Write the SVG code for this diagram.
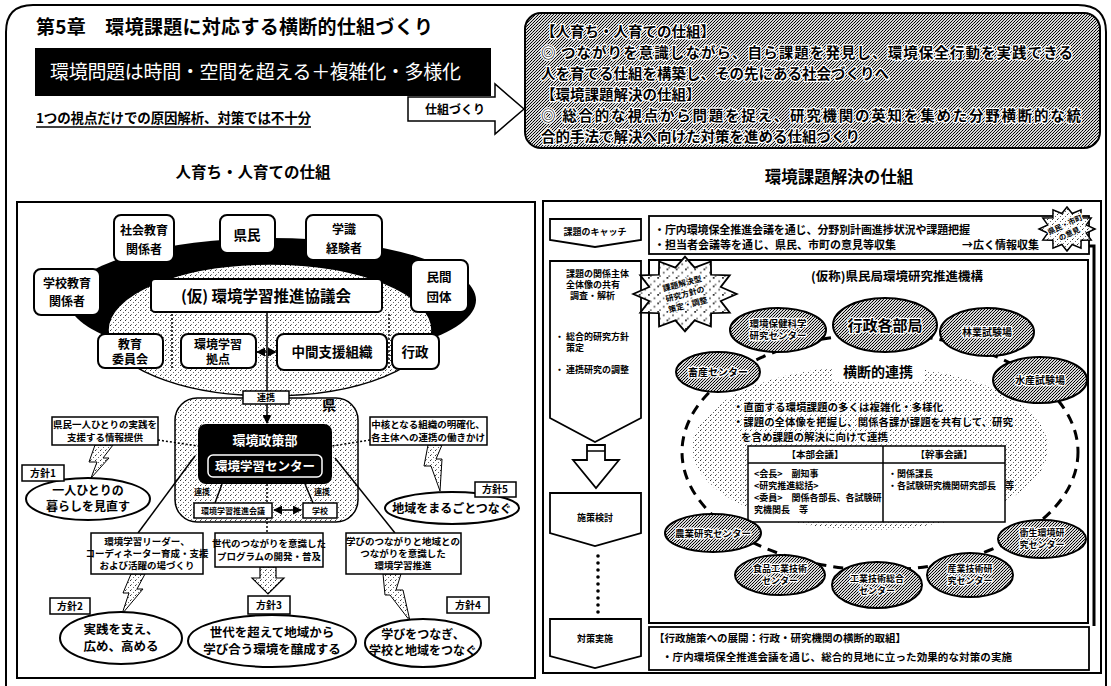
<svg xmlns="http://www.w3.org/2000/svg" width="1111" height="686" viewBox="0 0 1111 686">
<defs>
<style>
.t{font-family:"Noto Sans CJK JP","Noto Sans CJK SC",sans-serif;font-weight:700;fill:#000}
.c{text-anchor:middle}
.box{fill:#fff;stroke:#000;stroke-width:2}
.thin{fill:#fff;stroke:#000;stroke-width:1.5}
.halo{stroke:#fff;stroke-width:2.5;paint-order:stroke;stroke-linejoin:round}
.el{fill:url(#dk);stroke:#000;stroke-width:2}
.ln{fill:none;stroke:#000;stroke-width:1.5}
.dot{fill:none;stroke:#000;stroke-width:1.5;stroke-dasharray:2 2}
.wedge{fill:url(#lt);stroke:#000;stroke-width:1}
</style>
<pattern id="lt" width="5" height="5" patternUnits="userSpaceOnUse">
<rect width="5" height="5" fill="#fff"/>
<rect x="0" y="0" width="1" height="1" fill="#333"/>
<rect x="3" y="2" width="1" height="1" fill="#666"/>
<rect x="1" y="4" width="1" height="1" fill="#888"/>
</pattern>
<pattern id="dk" width="3" height="3" patternUnits="userSpaceOnUse">
<rect width="3" height="3" fill="#d8d8d8"/>
<rect x="0" y="0" width="1" height="1" fill="#000"/>
<rect x="2" y="1" width="1" height="1" fill="#000"/>
<rect x="1" y="2" width="1" height="1" fill="#222"/>
</pattern>
<marker id="arr" viewBox="0 0 10 10" refX="9" refY="5" markerWidth="6" markerHeight="6" orient="auto-start-reverse">
<path d="M0,0 L10,5 L0,10 z" fill="#000"/>
</marker>
<polygon id="burst" points="28,0 19.3,4.1 24.2,11 14.1,11.3 14,19.1 5.2,15.5 0,22 -5.2,15.5 -14,19.1 -14.1,11.3 -24.2,11 -19.3,4.1 -28,0 -19.3,-4.1 -24.2,-11 -14.1,-11.3 -14,-19.1 -5.2,-15.5 0,-22 5.2,-15.5 14,-19.1 14.1,-11.3 24.2,-11 19.3,-4.1"/>
</defs>

<rect width="1111" height="686" fill="#fff"/>
<path d="M6,686 V32 Q6,5 33,5 H1078 Q1106,5 1106,32 V686" fill="none" stroke="#000" stroke-width="2"/>

<g id="header">
<text class="t" x="36" y="34" font-size="19" textLength="397">第5章　環境課題に対応する横断的仕組づくり</text>
<rect x="35" y="48" width="456" height="48" fill="#000"/>
<text class="t" x="50" y="79" font-size="19" textLength="411" style="fill:#fff;font-weight:400">環境問題は時間・空間を超える＋複雑化・多様化</text>
<text class="t" x="36" y="123" font-size="13.5" textLength="275">1つの視点だけでの原因解析、対策では不十分</text>
<line x1="36" y1="127" x2="311" y2="127" stroke="#000" stroke-width="1.5"/>
</g>

<g id="arrow-shikumi">
<polygon points="408,97 495,97 495,84 524,109 495,134 495,121 408,121" fill="#fff" stroke="#000" stroke-width="1.5"/>
<text class="t c" x="455" y="114" font-size="12">仕組づくり</text>
</g>

<g id="summary-box">
<rect x="525" y="13" width="575" height="135" rx="16" fill="url(#dk)" stroke="#000" stroke-width="2"/>
<text class="t halo" x="541" y="37" font-size="14.5">【人育ち・人育ての仕組】</text>
<text class="t halo" x="541" y="58" font-size="14.5" textLength="532">◎ つながりを意識しながら、自ら課題を発見し、環境保全行動を実践できる</text>
<text class="t halo" x="541" y="79" font-size="14.5">人を育てる仕組を構築し、その先にある社会づくりへ</text>
<text class="t halo" x="541" y="100" font-size="14.5">【環境課題解決の仕組】</text>
<text class="t halo" x="541" y="121" font-size="14.5" textLength="540">◎ 総合的な視点から問題を捉え、研究機関の英知を集めた分野横断的な統</text>
<text class="t halo" x="541" y="142" font-size="14.5">合的手法で解決へ向けた対策を進める仕組づくり</text>
</g>

<text class="t c" x="253" y="178" font-size="15.5">人育ち・人育ての仕組</text>
<text class="t c" x="839" y="183" font-size="16.5">環境課題解決の仕組</text>

<!-- LEFT PANEL -->
<g id="left-panel">
<rect x="17" y="202" width="518" height="476" fill="#fff" stroke="#000" stroke-width="2"/>
<ellipse cx="272" cy="300" rx="204" ry="62" fill="#000"/>
<ellipse cx="270" cy="330" rx="162" ry="66" fill="url(#lt)" stroke="#000" stroke-width="1.5"/>
<rect x="175" y="398" width="183" height="124" rx="22" fill="url(#lt)" stroke="#000" stroke-width="1.5"/>
<text class="t" x="322" y="410" font-size="14">県</text>
</g>

<g id="connectors">
<line class="dot" x1="172" y1="314" x2="172" y2="368"/>
<line class="dot" x1="389" y1="314" x2="389" y2="368"/>
<line class="dot" x1="257" y1="352" x2="276" y2="352" marker-start="url(#arr)" marker-end="url(#arr)"/>
<line class="ln" x1="267" y1="312" x2="267" y2="423" stroke-width="2" marker-end="url(#arr)"/>
<line class="dot" x1="158" y1="440" x2="198" y2="446"/>
<line class="dot" x1="370" y1="440" x2="332" y2="446"/>
<line class="ln" x1="195" y1="456" x2="138" y2="533"/>
<line class="ln" x1="335" y1="458" x2="395" y2="533"/>
<line class="ln" x1="222" y1="484" x2="215" y2="503"/>
<line class="ln" x1="305" y1="484" x2="313" y2="503"/>
<line class="dot" x1="267" y1="484" x2="267" y2="503"/>
<line class="dot" x1="267" y1="518" x2="267" y2="533"/>
<line class="ln" x1="274" y1="510" x2="301" y2="510" marker-start="url(#arr)" marker-end="url(#arr)"/>
<polygon class="wedge" points="95,445 113,445 103,458 109,458 91,478 97,462 89,462"/>
<polygon class="wedge" points="428,445 442,445 436,459 442,459 440,491 431,466 424,466"/>
<polygon class="wedge" points="131,574 145,574 137,589 143,589 122,614 129,593 123,593"/>
<polygon class="wedge" points="383,574 401,574 396,590 403,590 410,621 390,595 385,595"/>
<polygon class="wedge" points="260,567 276,567 276,578 284,578 268,594 252,578 260,578" style="stroke-width:1.2"/>
<polygon points="587,445 605,445 605,460 619,460 596,488 573,460 587,460" fill="#fff" stroke="#000" stroke-width="1.8"/>
<line x1="587" y1="451" x2="605" y2="451" stroke="#000" stroke-width="1.5"/>
<path d="M1094,626 V246 H1072" fill="none" stroke="#000" stroke-width="3" marker-end="url(#arr)"/>
</g>

<g id="n-shakai"><rect class="box" x="114" y="215" width="60" height="47" rx="7"/><text class="t c" x="144" y="235" font-size="12">社会教育</text><text class="t c" x="144" y="254" font-size="12">関係者</text></g>
<g id="n-kenmin"><rect class="box" x="220" y="215" width="55" height="38" rx="7"/><text class="t c" x="247" y="240" font-size="13.5">県民</text></g>
<g id="n-gakushiki"><rect class="box" x="306" y="215" width="76" height="45" rx="7"/><text class="t c" x="344" y="234" font-size="12">学識</text><text class="t c" x="344" y="253" font-size="12">経験者</text></g>
<g id="n-gakko"><rect class="box" x="34" y="269" width="66" height="46" rx="7"/><text class="t c" x="67" y="288" font-size="12">学校教育</text><text class="t c" x="67" y="306" font-size="12">関係者</text></g>
<g id="n-minkan"><rect class="box" x="411" y="260" width="57" height="52" rx="7"/><text class="t c" x="439" y="282" font-size="12.5">民間</text><text class="t c" x="439" y="302" font-size="12.5">団体</text></g>
<g id="n-kyogikai"><rect class="box" x="151" y="279" width="231" height="33" rx="4"/><text class="t c" x="266" y="302" font-size="15.5">(仮) 環境学習推進協議会</text></g>
<g id="n-kyoiku"><rect class="box" x="98" y="334" width="65" height="34" rx="7"/><text class="t c" x="130" y="349" font-size="12">教育</text><text class="t c" x="130" y="364" font-size="12">委員会</text></g>
<g id="n-kyoten"><rect class="box" x="181" y="334" width="75" height="34" rx="7"/><text class="t c" x="218" y="349" font-size="12">環境学習</text><text class="t c" x="218" y="364" font-size="12">拠点</text></g>
<g id="n-chukan"><rect class="box" x="277" y="334" width="110" height="36" rx="7"/><text class="t c" x="332" y="357" font-size="13.5">中間支援組織</text></g>
<g id="n-gyosei"><rect class="box" x="392" y="334" width="47" height="35" rx="7"/><text class="t c" x="415" y="357" font-size="13.5">行政</text></g>
<g id="n-renkei"><rect class="thin" x="243" y="391" width="46" height="13"/><text class="t c" x="266" y="401" font-size="9">連携</text></g>
<g id="n-center"><rect x="198" y="424" width="134" height="60" rx="8" fill="#000"/><text class="t c" x="265" y="445" font-size="13" style="fill:#fff">環境政策部</text><rect x="208" y="455" width="114" height="22" rx="5" fill="none" stroke="#fff" stroke-width="1.5"/><text class="t c" x="265" y="471" font-size="12.5" style="fill:#fff">環境学習センター</text></g>
<g id="n-lbox"><rect class="thin" x="52" y="417" width="106" height="28"/><text class="t c" x="105" y="428" font-size="9.5">県民一人ひとりの実践を</text><text class="t c" x="105" y="441" font-size="9.5">支援する情報提供</text></g>
<g id="n-rbox"><rect class="thin" x="370" y="417" width="117" height="28"/><text class="t c" x="428" y="428" font-size="9.5">中核となる組織の明確化、</text><text class="t c" x="428" y="441" font-size="9.5">各主体への連携の働きかけ</text></g>
<text class="t" x="194" y="495" font-size="8">連携</text>
<text class="t" x="314" y="495" font-size="8">連携</text>
<g id="n-suishin"><rect class="thin" x="194" y="503" width="78" height="15"/><text class="t c" x="233" y="514" font-size="8">環境学習推進会議</text></g>
<g id="n-gakko2"><rect class="thin" x="303" y="503" width="34" height="15"/><text class="t c" x="320" y="514" font-size="8">学校</text></g>

<g id="h1"><ellipse cx="88" cy="499" rx="62" ry="21" fill="#fff" stroke="#000" stroke-width="2"/><text class="t c" x="88" y="495" font-size="12">一人ひとりの</text><text class="t c" x="88" y="511" font-size="12">暮らしを見直す</text><rect class="thin" x="22" y="465" width="42" height="16"/><text class="t c" x="43" y="477" font-size="10">方針1</text></g>
<g id="h5"><ellipse cx="452" cy="508" rx="67" ry="16" fill="#fff" stroke="#000" stroke-width="2"/><text class="t c" x="452" y="513" font-size="12">地域をまるごとつなぐ</text><rect class="thin" x="475" y="482" width="41" height="15"/><text class="t c" x="495" y="493" font-size="10">方針5</text></g>
<g id="b-leader"><rect class="thin" x="91" y="533" width="112" height="41"/><text class="t c" x="147" y="545" font-size="9.5">環境学習リーダー、</text><text class="t c" x="147" y="557" font-size="9.5">コーディネーター育成・支援</text><text class="t c" x="147" y="569" font-size="9.5">および活躍の場づくり</text></g>
<g id="b-sedai"><rect class="thin" x="215" y="533" width="108" height="34"/><text class="t c" x="269" y="547" font-size="9.5">世代のつながりを意識した</text><text class="t c" x="269" y="560" font-size="9.5">プログラムの開発・普及</text></g>
<g id="b-manabi"><rect class="thin" x="346" y="533" width="115" height="41"/><text class="t c" x="403" y="545" font-size="9.5">学びのつながりと地域との</text><text class="t c" x="403" y="557" font-size="9.5">つながりを意識した</text><text class="t c" x="403" y="569" font-size="9.5">環境学習推進</text></g>
<g id="h2"><ellipse cx="121" cy="638" rx="61" ry="26" fill="#fff" stroke="#000" stroke-width="2"/><text class="t c" x="121" y="634" font-size="12.5">実践を支え、</text><text class="t c" x="121" y="651" font-size="12.5">広め、高める</text><rect class="thin" x="50" y="598" width="40" height="16"/><text class="t c" x="70" y="610" font-size="10">方針2</text></g>
<g id="h3"><ellipse cx="272" cy="641" rx="84" ry="26" fill="#fff" stroke="#000" stroke-width="2"/><text class="t c" x="272" y="637" font-size="12.5">世代を超えて地域から</text><text class="t c" x="272" y="654" font-size="12.5">学び合う環境を醸成する</text><rect class="thin" x="248" y="596" width="42" height="18"/><text class="t c" x="269" y="609" font-size="10">方針3</text></g>
<g id="h4"><ellipse cx="423" cy="643" rx="58" ry="24" fill="#fff" stroke="#000" stroke-width="2"/><text class="t c" x="423" y="639" font-size="12">学びをつなぎ、</text><text class="t c" x="423" y="655" font-size="12">学校と地域をつなぐ</text><rect class="thin" x="447" y="597" width="42" height="16"/><text class="t c" x="468" y="609" font-size="10">方針4</text></g>

<!-- RIGHT PANEL -->
<g id="right-panel">
<rect x="543" y="201" width="558" height="472" fill="none" stroke="#000" stroke-width="2"/>
</g>
<g id="s-catch"><polygon points="550,219 641,219 641,240 595,247 550,240" fill="#fff" stroke="#000" stroke-width="1.8"/><text class="t c" x="595" y="235" font-size="9">課題のキャッチ</text></g>
<g id="s-kaiseki"><polygon points="550,261 641,261 641,418 595,442 550,418" fill="#fff" stroke="#000" stroke-width="1.8"/>
<text class="t" x="566" y="277" font-size="9">課題の関係主体</text><text class="t" x="566" y="288" font-size="9">全体像の共有</text><text class="t" x="570" y="299" font-size="9">調査・解析</text>
<text class="t" x="555" y="340" font-size="9">・ 総合的研究方針</text><text class="t" x="566" y="351" font-size="9">策定</text>
<text class="t" x="555" y="373" font-size="9">・ 連携研究の調整</text></g>
<g id="s-kento"><polygon points="550,493 641,493 641,533 595,546 550,533" fill="#fff" stroke="#000" stroke-width="1.8"/><text class="t c" x="595" y="521" font-size="9">施策検討</text></g>
<g id="s-dots" fill="#000"><circle cx="598" cy="556" r="1.8"/><circle cx="598" cy="563" r="1.8"/><circle cx="598" cy="570" r="1.8"/><circle cx="598" cy="577" r="1.8"/><circle cx="598" cy="584" r="1.8"/><circle cx="598" cy="591" r="1.8"/><circle cx="598" cy="598" r="1.8"/><circle cx="598" cy="605" r="1.8"/><circle cx="598" cy="612" r="1.8"/></g>
<g id="s-jisshi"><polygon points="550,619 641,619 641,656 595,668 550,656" fill="#fff" stroke="#000" stroke-width="1.8"/><text class="t c" x="595" y="642" font-size="9">対策実施</text></g>

<g id="info-box"><rect x="649" y="216" width="440" height="38" fill="#fff" stroke="#000" stroke-width="1.8"/>
<text class="t" x="654" y="234" font-size="11" textLength="316">・庁内環境保全推進会議を通じ、分野別計画進捗状況や課題把握</text>
<text class="t" x="654" y="249" font-size="11">・担当者会議等を通じ、県民、市町の意見等収集</text>
<text class="t" x="962" y="249" font-size="11">→広く情報収集</text></g>
<g id="burst-r"><use href="#burst" transform="translate(1067,229)" fill="url(#lt)" stroke="#000" stroke-width="1.5"/><g transform="translate(1067,229) rotate(-25)"><text class="t c halo" x="0" y="-2" font-size="7.5">県民・市町</text><text class="t c halo" x="0" y="8" font-size="7.5">の意見</text></g></g>

<g id="inner-box"><rect x="649" y="260" width="439" height="363" fill="#fff" stroke="#000" stroke-width="2"/>
<text class="t c" x="897" y="281" font-size="12.5">(仮称)県民局環境研究推進機構</text></g>
<g id="renkei-area">
<ellipse cx="880" cy="452" rx="198" ry="118" fill="none" stroke="#000" stroke-width="3" stroke-dasharray="10 7"/>
<ellipse cx="870" cy="448" rx="178" ry="82" fill="url(#lt)"/>
<rect x="832" y="360" width="92" height="22" fill="#fff"/>
<text class="t c" x="878" y="377" font-size="14">横断的連携</text>
<text class="t halo" x="733" y="411" font-size="10.5">・直面する環境課題の多くは複雑化・多様化</text>
<text class="t halo" x="733" y="426" font-size="10.5" textLength="280">・課題の全体像を把握し、関係各課が課題を共有して、研究</text>
<text class="t halo" x="741" y="441" font-size="10.5">を含め課題の解決に向けて連携</text>
</g>
<g id="table"><rect x="748" y="446" width="257" height="76" fill="#fff" stroke="#000" stroke-width="1.5"/>
<line x1="748" y1="463" x2="1005" y2="463" stroke="#000" stroke-width="1.5"/><line x1="883" y1="446" x2="883" y2="522" stroke="#000" stroke-width="1.5"/>
<text class="t c" x="815" y="458" font-size="9.5">【本部会議】</text><text class="t c" x="944" y="458" font-size="9.5">【幹事会議】</text>
<text class="t" x="754" y="477" font-size="9">&lt;会長&gt;　副知事</text>
<text class="t" x="754" y="489" font-size="9">&lt;研究推進総括&gt;</text>
<text class="t" x="754" y="501" font-size="9">&lt;委員&gt;　関係各部長、各試験研</text>
<text class="t" x="754" y="513" font-size="9">究機関長　等</text>
<text class="t" x="888" y="477" font-size="9">・関係課長</text>
<text class="t" x="888" y="489" font-size="9">・各試験研究機関研究部長　等</text></g>

<g id="burst-l"><use href="#burst" transform="translate(685,294) scale(1.85,1.7)" fill="url(#lt)" stroke="#000" stroke-width="1" vector-effect="non-scaling-stroke"/><g transform="translate(685,294) rotate(-15)"><text class="t c halo" x="0" y="-8" font-size="8">課題解決型</text><text class="t c halo" x="0" y="3" font-size="8">研究方針の</text><text class="t c halo" x="0" y="14" font-size="8">策定・調整</text></g></g>

<g id="e-a"><ellipse class="el" cx="778" cy="330" rx="48" ry="22"/><text class="t c halo" x="778" y="327" font-size="9.5">環境保健科学</text><text class="t c halo" x="778" y="339" font-size="9.5">研究センター</text></g>
<g id="e-b"><ellipse class="el" cx="885" cy="325" rx="52" ry="27"/><text class="t c halo" x="885" y="331" font-size="15">行政各部局</text></g>
<g id="e-c"><ellipse class="el" cx="987" cy="332" rx="47" ry="24"/><text class="t c halo" x="987" y="336" font-size="10">林業試験場</text></g>
<g id="e-d"><ellipse class="el" cx="718" cy="372" rx="42" ry="20"/><text class="t c halo" x="718" y="376" font-size="10">畜産センター</text></g>
<g id="e-e"><ellipse class="el" cx="1040" cy="380" rx="47" ry="23"/><text class="t c halo" x="1040" y="384" font-size="10">水産試験場</text></g>
<g id="e-f"><ellipse class="el" cx="713" cy="533" rx="48" ry="19"/><text class="t c halo" x="713" y="537" font-size="9.5">農業研究センター</text></g>
<g id="e-g"><ellipse class="el" cx="780" cy="575" rx="45" ry="20"/><text class="t c halo" x="780" y="572" font-size="9">食品工業技術</text><text class="t c halo" x="780" y="584" font-size="9">センター</text></g>
<g id="e-h"><ellipse class="el" cx="877" cy="585" rx="45" ry="23"/><text class="t c halo" x="877" y="582" font-size="9">工業技術総合</text><text class="t c halo" x="877" y="594" font-size="9">センター</text></g>
<g id="e-i"><ellipse class="el" cx="970" cy="575" rx="43" ry="22"/><text class="t c halo" x="970" y="572" font-size="9">産業技術研</text><text class="t c halo" x="970" y="584" font-size="9">究センター</text></g>
<g id="e-j"><ellipse class="el" cx="1042" cy="539" rx="44" ry="19"/><text class="t c halo" x="1042" y="536" font-size="9">衛生環境研</text><text class="t c halo" x="1042" y="548" font-size="9">究センター</text></g>

<g id="bottom-box"><rect x="649" y="627" width="440" height="43" fill="#fff" stroke="#000" stroke-width="1.8"/>
<text class="t" x="654" y="642" font-size="10.5">【行政施策への展開：行政・研究機関の横断的取組】</text>
<text class="t" x="662" y="661" font-size="10.5" textLength="350">・庁内環境保全推進会議を通じ、総合的見地に立った効果的な対策の実施</text></g>
</svg>
